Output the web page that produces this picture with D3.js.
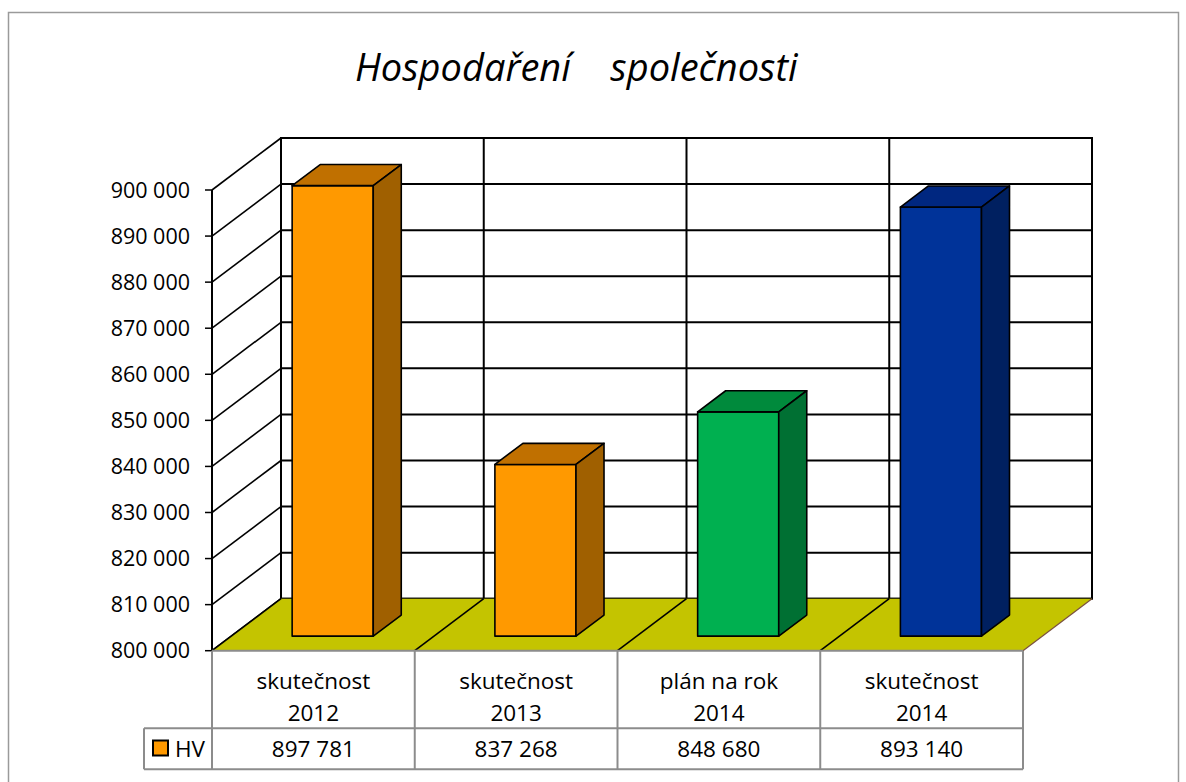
<!DOCTYPE html>
<html>
<head>
<meta charset="utf-8">
<script src="https://cdn.jsdelivr.net/npm/d3@7"></script>
<style>
    body { margin: 0; background: #fff; }
    svg { display: block; font-family: "Open Sans", sans-serif; }
</style>
</head>
<body>
<svg id="chart" width="1186" height="782"></svg>
<script>
// chart data
var title = 'Hospodaření    společnosti';
var categories = ['skutečnost 2012', 'skutečnost 2013', 'plán na rok 2014', 'skutečnost 2014'];
var seriesName = 'HV';
var values = [897781, 837268, 848680, 893140];
var yDomain = [800000, 900000];

// face colours per bar: front, top, side
var barColors = [
    ['#FF9900', '#C07000', '#A06000'],
    ['#FF9900', '#C07000', '#A06000'],
    ['#00B050', '#008A3C', '#007033'],
    ['#003399', '#002780', '#002060']
];

var svg = d3.select('#chart');
var locale = d3.formatLocale({ decimal: ',', thousands: ' ', grouping: [3], currency: ['', ''] });
var fmt = locale.format(',d');
var FS = '22.5px';

var x = d3.scaleBand().domain(d3.range(categories.length)).range([212, 1023]);
var y = d3.scaleLinear().domain(yDomain).range([650.7, 190]);
var DX = 69, DY = -52;   // depth offset of the back wall

// project a point (front x, value, depth 0..1) to the screen
function P(px, v, d) {
    return [px + d * DX, y(v) + d * DY];
}
function poly(pts) {
    return pts.map(function (p) { return p.join(','); }).join(' ');
}

var x0 = x.range()[0], x1 = x.range()[1];
var yMin = yDomain[0], yMax = yDomain[1];
var ticks = y.ticks(10);

// outer border
svg.append('rect')
    .attr('x', 8.5).attr('y', 12.5)
    .attr('width', 1170).attr('height', 800)
    .attr('fill', 'none').attr('stroke', '#9a9a9a').attr('stroke-width', 1.5);

// title
svg.append('text')
    .attr('x', 355).attr('y', 81)
    .attr('font-size', '38px')
    .attr('font-style', 'italic')
    .attr('fill', '#000')
    .style('white-space', 'pre')
    .text(title);

// back wall
svg.append('polygon')
    .attr('points', poly([P(x0, yMin, 1), P(x1, yMin, 1), P(x1, yMax, 1), P(x0, yMax, 1)]))
    .attr('fill', '#fff').attr('stroke', '#000').attr('stroke-width', 2);

// gridlines on back wall and side wall
ticks.forEach(function (t) {
    var a = P(x0, t, 1), b = P(x1, t, 1), f = P(x0, t, 0);
    svg.append('line')
        .attr('x1', a[0]).attr('y1', a[1]).attr('x2', b[0]).attr('y2', b[1])
        .attr('stroke', '#000').attr('stroke-width', 2);
    svg.append('line')
        .attr('x1', f[0]).attr('y1', f[1]).attr('x2', a[0]).attr('y2', a[1])
        .attr('stroke', '#000').attr('stroke-width', 1.6);
});

// category dividers on back wall
d3.range(categories.length + 1).forEach(function (i) {
    var px = x0 + i * x.bandwidth();
    var a = P(px, yMin, 1), b = P(px, yMax, 1);
    svg.append('line')
        .attr('x1', a[0]).attr('y1', a[1]).attr('x2', b[0]).attr('y2', b[1])
        .attr('stroke', '#000').attr('stroke-width', 2);
});

// floor
svg.append('polygon')
    .attr('points', poly([P(x0, yMin, 0), P(x1, yMin, 0), P(x1, yMin, 1), P(x0, yMin, 1)]))
    .attr('fill', '#C4C400').attr('stroke', 'none');

d3.range(categories.length + 1).forEach(function (i) {
    var px = x0 + i * x.bandwidth();
    var a = P(px, yMin, 0), b = P(px, yMin, 1);
    svg.append('line')
        .attr('x1', a[0]).attr('y1', a[1]).attr('x2', b[0]).attr('y2', b[1])
        .attr('stroke', i === categories.length ? '#7a5040' : '#000')
        .attr('stroke-width', i === categories.length ? 1.2 : 1.6);
});

// front axis line + ticks + labels
var axTop = P(x0, yMax, 0), axBot = P(x0, yMin, 0);
svg.append('line')
    .attr('x1', axTop[0]).attr('y1', axTop[1]).attr('x2', axBot[0]).attr('y2', axBot[1])
    .attr('stroke', '#000').attr('stroke-width', 2);

var tickG = svg.append('g').selectAll('g')
    .data(ticks)
    .enter()
    .append('g')
    .attr('transform', function (d) { return 'translate(' + x0 + ',' + y(d) + ')'; });

tickG.append('line')
    .attr('x1', -7).attr('x2', 0)
    .attr('stroke', '#000').attr('stroke-width', 1.5);

tickG.append('text')
    .attr('x', -22)
    .attr('dy', '0.36em')
    .attr('text-anchor', 'end')
    .attr('font-size', '21.5px')
    .attr('fill', '#000')
    .text(function (d) { return fmt(d); });

// bars
var dFront = 0.28, dBack = 0.686;
var barW = x.bandwidth() * 0.4;

var bars = svg.append('g').selectAll('g')
    .data(values)
    .enter()
    .append('g');

bars.each(function (v, i) {
    var g = d3.select(this);
    var bx0 = x(i) + (x.bandwidth() - barW) / 2;
    var bx1 = bx0 + barW;
    var c = barColors[i];

    g.append('polygon')
        .attr('points', poly([P(bx0, v, dFront), P(bx1, v, dFront), P(bx1, yMin, dFront), P(bx0, yMin, dFront)]))
        .attr('fill', c[0]).attr('stroke', '#000').attr('stroke-width', 1.6).attr('stroke-linejoin', 'round');
    g.append('polygon')
        .attr('points', poly([P(bx0, v, dFront), P(bx1, v, dFront), P(bx1, v, dBack), P(bx0, v, dBack)]))
        .attr('fill', c[1]).attr('stroke', '#000').attr('stroke-width', 1.6).attr('stroke-linejoin', 'round');
    g.append('polygon')
        .attr('points', poly([P(bx1, v, dFront), P(bx1, v, dBack), P(bx1, yMin, dBack), P(bx1, yMin, dFront)]))
        .attr('fill', c[2]).attr('stroke', '#000').attr('stroke-width', 1.6).attr('stroke-linejoin', 'round');
});

// data table
var rowTop = y(yMin), rowMid = 728.3, rowBot = 769.3, legendX = 144;
var table = svg.append('g')
    .attr('stroke', '#8c8c8c').attr('stroke-width', 2);

table.append('line').attr('x1', x0).attr('x2', x1).attr('y1', rowTop).attr('y2', rowTop);
table.append('line').attr('x1', legendX).attr('x2', x1).attr('y1', rowMid).attr('y2', rowMid);
table.append('line').attr('x1', legendX).attr('x2', x1).attr('y1', rowBot).attr('y2', rowBot);
table.append('line').attr('x1', legendX).attr('x2', legendX).attr('y1', rowMid).attr('y2', rowBot);
d3.range(categories.length + 1).forEach(function (i) {
    var px = x0 + i * x.bandwidth();
    table.append('line').attr('x1', px).attr('x2', px).attr('y1', rowTop).attr('y2', rowBot);
});

var cells = svg.append('g').selectAll('g')
    .data(categories)
    .enter()
    .append('g')
    .attr('transform', function (d, i) { return 'translate(' + (x(i) + x.bandwidth() / 2) + ',0)'; });

cells.append('text')
    .attr('text-anchor', 'middle')
    .attr('font-size', FS)
    .attr('fill', '#000')
    .each(function (d) {
        var cut = d.lastIndexOf(' ');
        var t = d3.select(this);
        t.append('tspan').attr('x', 0).attr('y', 689).text(d.slice(0, cut));
        t.append('tspan').attr('x', 0).attr('y', 720.5).text(d.slice(cut + 1));
    });

cells.append('text')
    .attr('y', 757)
    .attr('text-anchor', 'middle')
    .attr('font-size', FS)
    .attr('fill', '#000')
    .text(function (d, i) { return fmt(values[i]); });

// legend key in table
svg.append('rect')
    .attr('x', 153).attr('y', 740.5).attr('width', 15).attr('height', 15)
    .attr('fill', barColors[0][0]).attr('stroke', '#000').attr('stroke-width', 2);
svg.append('text')
    .attr('x', 175).attr('y', 757)
    .attr('font-size', FS)
    .attr('fill', '#000')
    .text(seriesName);
</script>
</body>
</html>
